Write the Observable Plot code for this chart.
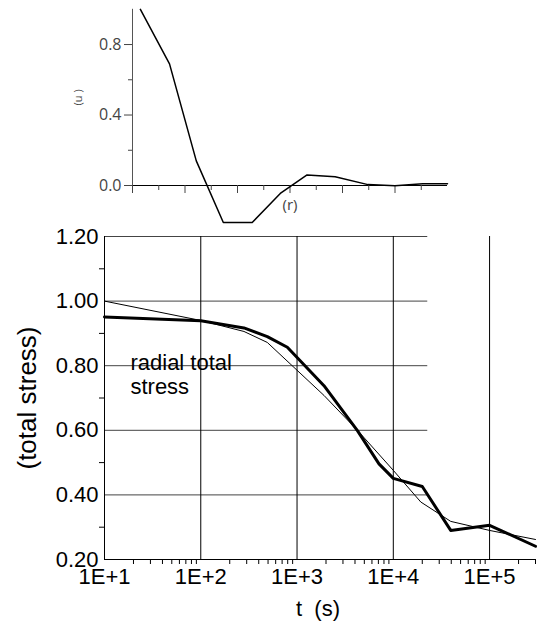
<!DOCTYPE html>
<html>
<head>
<meta charset="utf-8">
<script src="https://cdn.jsdelivr.net/npm/d3@7"></script>
<script src="https://cdn.jsdelivr.net/npm/@observablehq/plot@0.6"></script>
<style>
  body { margin: 0; background: #fff; }
  #wrap { position: relative; width: 541px; height: 621px; }
  #wrap svg { position: absolute; left: 0; top: 0; }
  #wrap text { white-space: pre; }
</style>
</head>
<body>
<div id="wrap"></div>
<script>
// Inset: radial profile u(r)
const insetR = [0.3, 1.41, 2.43, 3.46, 4.56, 5.63, 6.65, 7.72, 8.97, 10.0, 11.06, 12.0];
const insetU = [1.0, 0.69, 0.14, -0.21, -0.21, -0.045, 0.06, 0.05, 0.005, -0.002, 0.01, 0.01];
const insetMajorTicksY = [0, 0.4, 0.8];
const insetMinorTicksY = [0.2, 0.6];
const insetLongTicksX = [0, 2, 4, 6, 8, 10];
const insetShortTicksX = [1, 3, 5, 7, 9, 11];

// Main: radial total stress against time (two curves)
const timeThick = [10, 100, 281, 491, 793, 1905, 4240, 7100, 1e4, 2e4, 3.95e4, 1e5, 3e5];
const stressThick = [0.951, 0.939, 0.917, 0.890, 0.857, 0.738, 0.599, 0.496, 0.451, 0.426, 0.290, 0.306, 0.241];
const timeThin = [10, 100, 281, 491, 1905, 4240, 1e4, 1.93e4, 3.95e4, 1e5, 3e5];
const stressThin = [1.0, 0.94, 0.906, 0.872, 0.708, 0.60, 0.476, 0.378, 0.318, 0.290, 0.262];
const decades = [10, 100, 1000, 10000, 100000];
const stressTicks = [0.2, 0.4, 0.6, 0.8, 1.0, 1.2];
const stressMinorTicks = [0.3, 0.5, 0.7, 0.9, 1.1];
const annotation = "radial total\nstress";

const thick = timeThick.map((t, i) => ({t, s: stressThick[i]}));
const thin = timeThin.map((t, i) => ({t, s: stressThin[i]}));
const inset = insetR.map((r, i) => ({r, u: insetU[i]}));

// minor log ticks 2..9 in each decade, up to the end of the axis
const minorTimes = [];
for (const d of decades) for (let k = 2; k <= 9; k++) if (d * k <= 3e5) minorTimes.push(d * k);

const gridEnd = 22800; // horizontal grid stops short of the right edge

const main = Plot.plot({
  width: 541,
  height: 621,
  marginTop: 236,
  marginBottom: 62,
  marginLeft: 104,
  marginRight: 6,
  x: {type: "log", domain: [10, 3e5]},
  y: {domain: [0.2, 1.2]},
  style: {fontFamily: "'Liberation Sans', Arial, sans-serif", fontSize: "22px", background: "transparent", overflow: "visible"},
  marks: [
    Plot.ruleY(stressTicks.filter(v => v > 0.2), {x1: 10, x2: gridEnd, stroke: "#444", strokeWidth: 1}),
    Plot.ruleX(decades.slice(1), {stroke: "#000", strokeWidth: 1}),
    Plot.ruleX([10], {stroke: "#000", strokeWidth: 1}),
    Plot.ruleY([0.2], {stroke: "#000", strokeWidth: 1}),
    Plot.axisY({ticks: stressTicks, tickSize: 0, tickPadding: 6, tickFormat: d3.format(".2f"), label: null, fontSize: 22, fill: "#000"}),
    Plot.axisY({ticks: stressMinorTicks, tickSize: 5, tickFormat: () => "", label: null, stroke: "#000"}),
    Plot.axisX({ticks: decades, tickSize: 0, tickPadding: 9, tickFormat: d => `1E+${Math.round(Math.log10(d))}`, label: null, fontSize: 22, fill: "#000"}),
    Plot.axisX({ticks: minorTimes, tickSize: 5, tickFormat: () => "", label: null, stroke: "#000"}),
    Plot.line(thin, {x: "t", y: "s", stroke: "#000", strokeWidth: 1}),
    Plot.line(thick, {x: "t", y: "s", stroke: "#000", strokeWidth: 3}),
    Plot.text([annotation], {x: 18.6, y: 0.841, text: d => d, textAnchor: "start", lineAnchor: "top", lineHeight: 1.11, fontSize: 22, fill: "#000"}),
    Plot.text(["(total stress)"], {frameAnchor: "left", text: d => d, rotate: -90, dx: -77, textAnchor: "middle", lineAnchor: "middle", fontSize: 26, fill: "#000"}),
    Plot.text(["t  (s)"], {frameAnchor: "bottom", text: d => d, dy: 49, dx: -2, textAnchor: "middle", lineAnchor: "middle", fontSize: 22, fill: "#000"})
  ]
});

const insetPlot = Plot.plot({
  width: 541,
  height: 232,
  marginTop: 8.8,
  marginBottom: 47,
  marginLeft: 132,
  marginRight: 94,
  x: {domain: [0, 12]},
  y: {domain: [0, 1.0]},
  style: {fontFamily: "'Open Sans', 'Noto Sans', sans-serif", fontSize: "16px", background: "transparent", overflow: "visible"},
  marks: [
    Plot.ruleX([0], {y1: 0, y2: 1.0, stroke: "#555", strokeWidth: 1}),
    Plot.ruleY([0], {x1: 0, x2: 12, stroke: "#000", strokeWidth: 1}),
    Plot.axisY({ticks: insetMajorTicksY, tickSize: 8, tickPadding: 3, tickFormat: d3.format(".1f"), label: null, fontSize: 16, fill: "#444", stroke: "#444"}),
    Plot.axisY({ticks: insetMinorTicksY, tickSize: 4, tickFormat: () => "", label: null, stroke: "#444"}),
    Plot.axisX({ticks: insetLongTicksX, tickSize: 8, tickFormat: () => "", label: null, stroke: "#444"}),
    Plot.axisX({ticks: insetShortTicksX, tickSize: 5, tickFormat: () => "", label: null, stroke: "#444"}),
    Plot.line(inset, {x: "r", y: "u", stroke: "#000", strokeWidth: 1.5}),
    Plot.text(["(r)"], {x: 6, y: 0, text: d => d, dy: 20, fontSize: 15, fill: "#444"}),
    Plot.text(["(u )"], {x: 0, y: 0.5, text: d => d, rotate: -90, dx: -54, fontSize: 11, fill: "#444"})
  ]
});

const wrap = document.getElementById("wrap");
wrap.appendChild(main);
wrap.appendChild(insetPlot);
</script>
</body>
</html>
